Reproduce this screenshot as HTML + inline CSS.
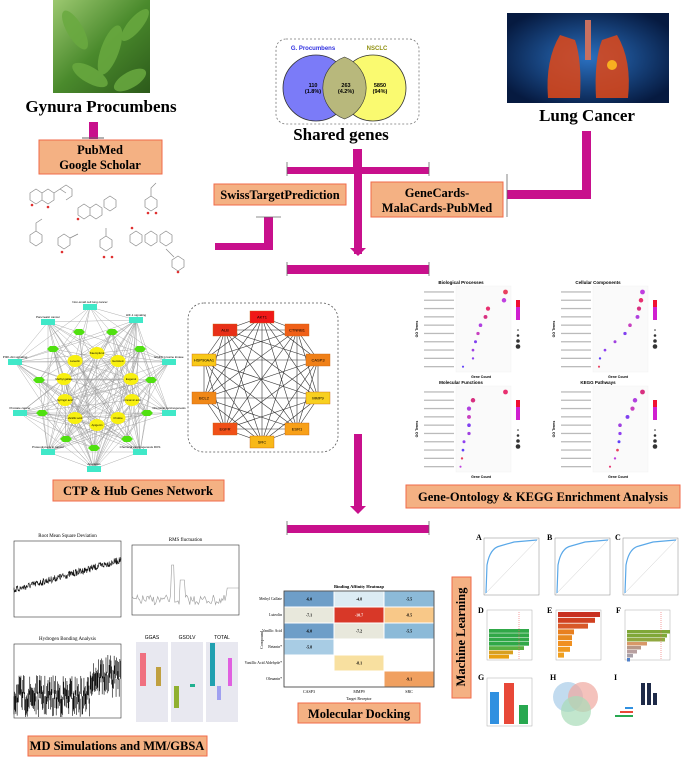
<!DOCTYPE html>
<html><head><meta charset="utf-8"><style>
html,body{margin:0;padding:0;background:#fff;}
svg{display:block;font-family:"Liberation Serif",serif;}
</style></head><body>
<svg id="s" width="685" height="757" viewBox="0 0 685 757" xmlns="http://www.w3.org/2000/svg">
<defs>
<linearGradient id="leaf" x1="0" y1="0" x2="1" y2="1"><stop offset="0" stop-color="#9cc870"/><stop offset="0.5" stop-color="#4a8a2c"/><stop offset="1" stop-color="#2c5a1a"/></linearGradient>
<radialGradient id="lung" cx="0.5" cy="0.5" r="0.6"><stop offset="0" stop-color="#2a70c0"/><stop offset="1" stop-color="#061a40"/></radialGradient>
</defs>

<rect x="53" y="0" width="97" height="93" fill="url(#leaf)"/>
<g fill="#6aaa40" opacity="0.85">
<ellipse cx="75" cy="30" rx="8" ry="22" transform="rotate(-30 75 30)"/>
<ellipse cx="110" cy="50" rx="9" ry="26" transform="rotate(20 110 50)"/>
<ellipse cx="135" cy="25" rx="7" ry="20" transform="rotate(40 135 25)"/>
<ellipse cx="90" cy="75" rx="8" ry="20" transform="rotate(-60 90 75)"/>
<ellipse cx="130" cy="80" rx="8" ry="18" transform="rotate(60 130 80)"/>
</g>
<text x="101" y="112" font-size="17" font-weight="bold" text-anchor="middle">Gynura Procumbens</text>

<rect x="89" y="122" width="9" height="17" fill="#c8108c"/>
<line x1="82" y1="138" x2="104" y2="138" stroke="#666" stroke-width="1"/>
<rect x="39" y="140" width="123" height="34" fill="#f4b183" stroke="#f06a4a" stroke-width="1"/>
<text x="100" y="154" font-size="12.5" font-weight="bold" text-anchor="middle">PubMed</text>
<text x="100" y="169" font-size="12.5" font-weight="bold" text-anchor="middle">Google Scholar</text>

<g stroke="#888" stroke-width="0.7" fill="none">
<path d="M30 193 l6-4 6 4 v7 l-6 4 -6-4z M42 193 l6-4 6 4 v7 l-6 4 -6-4z M54 193 l6-4 6 4 M60 189 l6-4 6 4 v7 l-6 4"/>
<path d="M78 208 l6-4 6 4 v7 l-6 4 -6-4z M90 208 l6-4 6 4 v7 l-6 4 -6-4z M104 200 l6-4 6 4 v7 l-6 4 -6-4z"/>
<path d="M145 200 l6-4 6 4 v7 l-6 4 -6-4z M151 196 v-8 l5-5"/>
<path d="M30 235 l6-4 6 4 v7 l-6 4 -6-4z M36 231 v-8 l6-4"/>
<path d="M58 238 l6-4 6 4 v7 l-6 4 -6-4z M70 238 l8-4"/>
<path d="M100 240 l6-4 6 4 v7 l-6 4 -6-4z M106 236 v-8"/>
<path d="M130 235 l6-4 6 4 v7 l-6 4 -6-4z M145 235 l6-4 6 4 v7 l-6 4 -6-4z M160 235 l6-4 6 4 v7 l-6 4 -6-4z M172 260 l6-4 6 4 v7 l-6 4 -6-4z M166 249 l8 8"/>
</g>
<g fill="#e03030"><circle cx="32" cy="205" r="1.3"/><circle cx="48" cy="207" r="1.3"/><circle cx="78" cy="219" r="1.3"/><circle cx="148" cy="213" r="1.3"/><circle cx="156" cy="213" r="1.3"/><circle cx="62" cy="252" r="1.3"/><circle cx="104" cy="257" r="1.3"/><circle cx="112" cy="257" r="1.3"/><circle cx="178" cy="272" r="1.3"/><circle cx="132" cy="228" r="1.3"/></g>

<rect x="276" y="39" width="143" height="85" rx="10" fill="none" stroke="#777" stroke-width="0.8" stroke-dasharray="2,2"/>
<text x="313" y="50" font-size="6" font-weight="bold" fill="#3030e0" text-anchor="middle" font-family="Liberation Sans">G. Procumbens</text>
<text x="377" y="50" font-size="6" font-weight="bold" fill="#909010" text-anchor="middle" font-family="Liberation Sans">NSCLC</text>
<circle cx="316" cy="88" r="33" fill="#7b7bf8" stroke="#333" stroke-width="0.8"/>
<circle cx="373" cy="88" r="33" fill="#fafa70" stroke="#333" stroke-width="0.8"/>
<path d="M344.5 57 A33 33 0 0 1 344.5 119 A33 33 0 0 1 344.5 57Z" fill="#b8b87c" stroke="#333" stroke-width="0.6"/>
<g font-family="Liberation Sans" font-size="5.5" font-weight="bold" text-anchor="middle">
<text x="313" y="87">110</text><text x="313" y="93">(1.8%)</text>
<text x="346" y="87">263</text><text x="346" y="93">(4.2%)</text>
<text x="380" y="87">5850</text><text x="380" y="93">(94%)</text>
</g>
<text x="341" y="140" font-size="17" font-weight="bold" text-anchor="middle">Shared genes</text>

<rect x="507" y="13" width="162" height="90" fill="url(#lung)"/>
<path d="M560 35 Q545 60 548 98 L580 98 Q582 60 575 40Z" fill="#e04818" opacity="0.85"/>
<path d="M617 35 Q632 60 628 98 L596 98 Q594 60 602 40Z" fill="#e04818" opacity="0.85"/>
<rect x="585" y="20" width="6" height="40" fill="#c87060"/>
<circle cx="612" cy="65" r="5" fill="#f8b020"/>
<text x="587" y="121" font-size="17" font-weight="bold" text-anchor="middle">Lung Cancer</text>

<g fill="#c8108c">
<rect x="353" y="149" width="9" height="18"/>
<rect x="287" y="167" width="142" height="7"/>
<rect x="354" y="174" width="8" height="80"/>
<polygon points="350,248 366,248 358,256"/>
<rect x="287" y="265" width="142" height="9"/>
<rect x="215" y="243" width="58" height="7"/>
<rect x="264" y="217" width="9" height="33"/>
<rect x="582" y="131" width="9" height="68"/>
<rect x="507" y="190" width="84" height="9"/>
</g>
<g stroke="#666" stroke-width="0.8"><line x1="287" y1="162" x2="287" y2="176"/><line x1="429" y1="162" x2="429" y2="176"/><line x1="287" y1="262" x2="287" y2="276"/><line x1="429" y1="262" x2="429" y2="276"/><line x1="256" y1="217" x2="281" y2="217"/><line x1="507" y1="174" x2="507" y2="217"/></g>

<rect x="214" y="184" width="132" height="21" fill="#f4b183" stroke="#f06a4a"/>
<text x="280" y="199" font-size="12.5" font-weight="bold" text-anchor="middle">SwissTargetPrediction</text>
<rect x="371" y="182" width="132" height="35" fill="#f4b183" stroke="#f06a4a"/>
<text x="437" y="197" font-size="12.5" font-weight="bold" text-anchor="middle">GeneCards-</text>
<text x="437" y="212" font-size="12.5" font-weight="bold" text-anchor="middle">MalaCards-PubMed</text>

<g id="net"></g>

<rect x="188" y="303" width="150" height="149" rx="16" fill="none" stroke="#555" stroke-width="0.8" stroke-dasharray="2,2"/>
<g id="hub"></g>

<rect x="53" y="480" width="171" height="21" fill="#f4b183" stroke="#f06a4a"/>
<text x="138" y="495" font-size="12.5" font-weight="bold" text-anchor="middle">CTP &amp; Hub Genes Network</text>

<g id="go" font-family="Liberation Sans"></g>
<rect x="406" y="485" width="274" height="23" fill="#f4b183" stroke="#f06a4a"/>
<text x="543" y="501" font-size="12.5" font-weight="bold" text-anchor="middle">Gene-Ontology &amp; KEGG Enrichment Analysis</text>

<g fill="#c8108c">
<rect x="354" y="434" width="8" height="76"/>
<polygon points="350,506 366,506 358,514"/>
<rect x="287" y="525" width="142" height="8"/>
</g>
<g stroke="#666" stroke-width="0.8"><line x1="287" y1="521" x2="287" y2="535"/><line x1="429" y1="521" x2="429" y2="535"/></g>

<g id="md" font-family="Liberation Serif"></g>
<rect x="28" y="736" width="179" height="20" fill="#f4b183" stroke="#f06a4a"/>
<text x="117" y="750" font-size="12.5" font-weight="bold" text-anchor="middle">MD Simulations and MM/GBSA</text>

<g id="hm"></g>
<rect x="298" y="703" width="122" height="20" fill="#f4b183" stroke="#f06a4a"/>
<text x="359" y="718" font-size="12.5" font-weight="bold" text-anchor="middle">Molecular Docking</text>

<rect x="452" y="577" width="19" height="121" fill="#f4b183" stroke="#f06a4a"/>
<text x="466" y="637" font-size="12.5" font-weight="bold" text-anchor="middle" transform="rotate(-90 466 637)" dy="-1">Machine Learning</text>
<g id="ml"></g>
</svg>
<script>
var NS="http://www.w3.org/2000/svg";
function el(p,t,a,txt){var e=document.createElementNS(NS,t);for(var k in a)e.setAttribute(k,a[k]);if(txt!=null)e.textContent=txt;p.appendChild(e);return e;}
var seed=7;function rnd(){seed=(seed*16807)%2147483647;return seed/2147483647;}
var net=document.getElementById('net');
var cyan=[[90,307,"Non-small cell lung cancer"],[136,320,"HIF-1 signaling"],[48,322,"Pancreatic cancer"],[15,362,"PI3K-Akt signaling"],[169,362,"EGFR tyrosine kinase"],[20,413,"Prostate cancer"],[169,413,"Chemical carcinogenesis"],[48,452,"Proteoglycans in cancer"],[140,452,"Chemical carcinogenesis ROS"],[94,469,"Apoptosis"]];
var green=[[79,332],[112,332],[53,349],[140,349],[39,380],[151,380],[42,413],[147,413],[66,439],[127,439],[94,448]];
var yel=[[97,353,"Kaempferol"],[75,361,"Luteolin"],[118,361,"Genistein"],[64,379,"Methyl gallate"],[131,379,"Eugenol"],[65,400,"Syringic acid"],[132,400,"Cinnamic acid"],[75,418,"Vanillic acid"],[118,418,"Choline"],[97,425,"Apigenin"]];
var all=cyan.concat(green).concat(yel);
var g=el(net,'g',{stroke:'#999','stroke-width':'0.4'});
for(var i=0;i<all.length;i++)for(var j=i+1;j<all.length;j++){if(rnd()<0.45)el(g,'line',{x1:all[i][0],y1:all[i][1],x2:all[j][0],y2:all[j][1]});}
cyan.forEach(function(c){el(net,'rect',{x:c[0]-7,y:c[1]-3,width:14,height:6,fill:'#40e8c8'});el(net,'text',{x:c[0],y:c[1]-4,'font-size':'3','text-anchor':'middle','font-family':'Liberation Sans'},c[2]);});
green.forEach(function(c){el(net,'polygon',{points:(c[0]-6)+','+c[1]+' '+(c[0]-3)+','+(c[1]-3)+' '+(c[0]+3)+','+(c[1]-3)+' '+(c[0]+6)+','+c[1]+' '+(c[0]+3)+','+(c[1]+3)+' '+(c[0]-3)+','+(c[1]+3),fill:'#50e010'});});
yel.forEach(function(c){el(net,'ellipse',{cx:c[0],cy:c[1],rx:7.5,ry:6,fill:'#f8f010'});el(net,'text',{x:c[0],y:c[1]+1,'font-size':'2.8','text-anchor':'middle','font-family':'Liberation Sans'},c[2]);});
var hub=document.getElementById('hub');
var hn=[["AKT1",262,317,"#f01818"],["ALB",225,330,"#e83018"],["CTNNB1",297,330,"#f06018"],["HSP90AA1",204,360,"#f8c818"],["CASP3",318,360,"#f08018"],["BCL2",204,398,"#f08818"],["MMP9",318,398,"#f8d020"],["EGFR",225,429,"#f05018"],["ESR1",297,429,"#f8a018"],["SRC",262,442,"#f8b818"]];
var hg=el(hub,'g',{stroke:'#333','stroke-width':'0.6'});
for(var i=0;i<hn.length;i++)for(var j=i+1;j<hn.length;j++)el(hg,'line',{x1:hn[i][1],y1:hn[i][2],x2:hn[j][1],y2:hn[j][2]});
hn.forEach(function(n){el(hub,'rect',{x:n[1]-12,y:n[2]-6,width:24,height:12,fill:n[3],stroke:'#c86010','stroke-width':'0.4'});el(hub,'text',{x:n[1],y:n[2]+1.5,'font-size':'4','text-anchor':'middle','font-family':'Liberation Sans'},n[0]);});
var go=document.getElementById('go');
var panels=[[416,284,"Biological Processes",[0.95,0.92,0.6,0.55,0.45,0.4,0.35,0.3,0.3,0.1]],[553,284,"Cellular Components",[0.95,0.92,0.88,0.85,0.7,0.6,0.4,0.2,0.1,0.08]],[416,384,"Molecular Functions",[0.95,0.3,0.22,0.22,0.22,0.22,0.12,0.1,0.08,0.05]],[553,384,"KEGG Pathways",[0.95,0.8,0.75,0.65,0.5,0.5,0.48,0.45,0.4,0.3]]];
var cols=['#e84060','#c040e0','#e83070','#d83080','#b040e0','#c840c0','#8040f0','#a040e0','#9040f0','#6040f8'];
panels.forEach(function(p,k){var x=p[0],y=p[1];el(go,'text',{x:x+45,y:y,'font-size':'4.5','font-weight':'bold','text-anchor':'middle'},p[2]);
el(go,'rect',{x:x+40,y:y+2,width:55,height:86,fill:'#fafafa',stroke:'#eee','stroke-width':'0.4'});
for(var i=0;i<10;i++){var yy=y+8+i*8.3;el(go,'rect',{x:x+8,y:yy-0.7,width:30,height:1.3,fill:'#bbb'});el(go,'circle',{cx:x+42+p[3][i]*50,cy:yy,r:2.4-i*0.15,fill:cols[(i+k)%10]});}
el(go,'text',{x:x+65,y:y+94,'font-size':'3.5','font-weight':'bold','text-anchor':'middle'},'Gene Count');
el(go,'text',{x:x+2,y:y+45,'font-size':'3.5','font-weight':'bold','text-anchor':'middle',transform:'rotate(-90 '+(x+2)+' '+(y+45)+')'},'GO Terms');
el(go,'rect',{x:x+100,y:y+16,width:4,height:20,fill:'#d020d0'});el(go,'rect',{x:x+100,y:y+16,width:4,height:7,fill:'#f01030'});
for(var i=0;i<4;i++)el(go,'circle',{cx:x+102,cy:y+46+i*5.5,r:0.8+i*0.5,fill:'#333'});});
var md=document.getElementById('md');
function frame(x,y,w,h,t){el(md,'rect',{x:x,y:y,width:w,height:h,fill:'#fff',stroke:'#333','stroke-width':'0.6'});if(t)el(md,'text',{x:x+w/2,y:y-4,'font-size':'5','text-anchor':'middle'},t);}
frame(14,541,107,76,"Root Mean Square Deviation");
var d="M14 590";for(var i=0;i<=300;i++){var xx=14+i*107/300;var base=590-i*0.1;d+=" L"+xx.toFixed(1)+" "+(base+(rnd()-0.5)*7).toFixed(1);}
el(md,'path',{d:d,stroke:'#111','stroke-width':'0.6',fill:'none'});
frame(132,545,107,70,"RMS fluctuation");
var d2="M132 600";for(var i=0;i<=100;i++){var xx=132+i*1.07;var v=600+(rnd()-0.5)*10;if(i>36&&i<40)v=565;if(i>44&&i<50)v=580;if(i>88)v=588;d2+=" L"+xx.toFixed(1)+" "+v.toFixed(1);}
el(md,'path',{d:d2,stroke:'#999','stroke-width':'0.6',fill:'none'});
frame(14,644,107,74,"Hydrogen Bonding Analysis");
var g3=el(md,'g',{stroke:'#000','stroke-width':'0.6'});
for(var i=0;i<170;i++){var xx=14+i*0.63;var hb=i>120?655:675;var v=hb+rnd()*25;el(g3,'line',{x1:xx,y1:Math.min(717,v+18),x2:xx,y2:v});}
var bx=[[136,"GGAS"],[171,"GSOLV"],[206,"TOTAL"]];bx.forEach(function(b){el(md,'rect',{x:b[0],y:642,width:32,height:80,fill:'#e8e8f0'});el(md,'text',{x:b[0]+16,y:639,'font-size':'5','text-anchor':'middle','font-family':'Liberation Sans'},b[1]);});
el(md,'rect',{x:140,y:653,width:6,height:33,fill:'#f07080'});el(md,'rect',{x:156,y:667,width:5,height:19,fill:'#c0a040'});
el(md,'rect',{x:174,y:686,width:5,height:22,fill:'#90b030'});el(md,'rect',{x:190,y:684,width:5,height:3,fill:'#20b090'});
el(md,'rect',{x:210,y:643,width:5,height:43,fill:'#20a0b0'});el(md,'rect',{x:217,y:686,width:4,height:14,fill:'#a0a0f0'});el(md,'rect',{x:228,y:658,width:4,height:28,fill:'#e060e0'});
var hm=document.getElementById('hm');
el(hm,'text',{x:359,y:588,'font-size':'4.5','font-weight':'bold','text-anchor':'middle'},'Binding Affinity Heatmap');
var rows=["Methyl Gallate","Luteolin","Vanillic Acid","Betanin*","Vanillic Acid Aldehyde*","Oleuanin*"];
var vals=[[["-6.0","#6e9ec8"],["-4.8","#dcecf4"],["-5.5","#8cbad8"]],[["-7.1","#e8e8dc"],["-10.7","#d83828"],["-8.5","#f8c888"]],[["-6.0","#6e9ec8"],["-7.2","#e8e8dc"],["-5.5","#8cbad8"]],[["-5.8","#a8cce4"],["","#fff"],["","#fff"]],[["","#fff"],["-8.1","#f8e0a0"],["","#fff"]],[["","#fff"],["","#fff"],["-9.1","#f0a060"]]];
var cw=50,rh=16;
el(hm,'rect',{x:284,y:591,width:150,height:96,fill:'#fff',stroke:'#333','stroke-width':'0.8'});
for(var r=0;r<6;r++){el(hm,'text',{x:282,y:591+r*rh+9,'font-size':'3.8','text-anchor':'end'},rows[r]);for(var c=0;c<3;c++){el(hm,'rect',{x:284+c*cw+0.5,y:591+r*rh+0.5,width:cw-1,height:rh-1,fill:vals[r][c][1]});el(hm,'text',{x:284+c*cw+cw/2,y:591+r*rh+9.5,'font-size':'4','font-weight':'bold','text-anchor':'middle',fill:vals[r][c][0]=="-10.7"?'#fff':'#000'},vals[r][c][0]);}}
["CASP3","MMP9","SRC"].forEach(function(t,c){el(hm,'text',{x:284+c*cw+cw/2,y:693,'font-size':'4','text-anchor':'middle'},t);});
el(hm,'text',{x:359,y:700,'font-size':'4','text-anchor':'middle'},'Target Receptor');
el(hm,'text',{x:263,y:640,'font-size':'4','text-anchor':'middle',transform:'rotate(-90 263 640)'},'Compound');
var ml=document.getElementById('ml');
[[484,"A"],[555,"B"],[623,"C"]].forEach(function(p){var x=p[0];el(ml,'text',{x:x-8,y:540,'font-size':'8','font-weight':'bold'},p[1]);el(ml,'rect',{x:x,y:538,width:55,height:57,fill:'#fff',stroke:'#888','stroke-width':'0.5'});
el(ml,'line',{x1:x,y1:595,x2:x+55,y2:538,stroke:'#ccc','stroke-width':'0.5'});
el(ml,'path',{d:'M'+(x+2)+' 593 L'+(x+3)+' 565 Q'+(x+6)+' 548 '+(x+16)+' 546 L'+(x+30)+' 542 L'+(x+53)+' 540',stroke:'#5aa8e8','stroke-width':'1.2',fill:'none'});});
[[487,"D"],[556,"E"],[625,"F"]].forEach(function(p){el(ml,'text',{x:p[0]-9,y:613,'font-size':'8','font-weight':'bold'},p[1]);el(ml,'rect',{x:p[0],y:610,width:45,height:50,fill:'#fff',stroke:'#aaa','stroke-width':'0.5'});});
var dg=[["#30a848",40],["#30a848",40],["#30a848",40],["#30a848",40],["#58b040",35],["#d8a020",24],["#e8a010",20]];
dg.forEach(function(b,i){el(ml,'rect',{x:489,y:629+i*4.3,width:b[1],height:3.8,fill:b[0]});});
el(ml,'line',{x1:519,y1:612,x2:519,y2:660,stroke:'#f06060','stroke-width':'0.6','stroke-dasharray':'1,1'});
var eg=[["#c83020",42],["#d04020",37],["#d85828",30],["#e88020",16],["#e88a20",14],["#f09020",14],["#f09a20",12],["#f0a020",6]];
eg.forEach(function(b,i){el(ml,'rect',{x:558,y:612+i*5.8,width:b[1],height:5,fill:b[0]});});
var fg=[["#80a838",43],["#80a838",40],["#90a840",38],["#d89868",20],["#b89888",14],["#b8a0a0",10],["#a8a0a8",6],["#5080c8",3]];
fg.forEach(function(b,i){el(ml,'rect',{x:627,y:630+i*4,width:b[1],height:3.5,fill:b[0]});});
el(ml,'line',{x1:661,y1:612,x2:661,y2:660,stroke:'#f06060','stroke-width':'0.6','stroke-dasharray':'1,1'});
el(ml,'text',{x:478,y:680,'font-size':'8','font-weight':'bold'},'G');
el(ml,'rect',{x:487,y:678,width:45,height:48,fill:'#fff',stroke:'#aaa','stroke-width':'0.5'});
el(ml,'rect',{x:490,y:692,width:9,height:32,fill:'#3090e0'});el(ml,'rect',{x:504,y:683,width:10,height:41,fill:'#e84838'});el(ml,'rect',{x:519,y:705,width:9,height:19,fill:'#28a850'});
el(ml,'text',{x:550,y:680,'font-size':'8','font-weight':'bold'},'H');
el(ml,'circle',{cx:568,cy:697,r:15,fill:'#a8cce8',opacity:'0.7'});el(ml,'circle',{cx:583,cy:697,r:15,fill:'#f0a8a0',opacity:'0.7'});el(ml,'circle',{cx:576,cy:711,r:15,fill:'#a8dcb8',opacity:'0.7'});
el(ml,'text',{x:614,y:680,'font-size':'8','font-weight':'bold'},'I');
[0,1,2].forEach(function(i){el(ml,'rect',{x:641+i*6,y:[683,683,693][i],width:4,height:[22,22,12][i],fill:'#1e2a48'});});
el(ml,'rect',{x:625,y:707,width:8,height:2,fill:'#3090e0'});el(ml,'rect',{x:620,y:711,width:13,height:2,fill:'#e84838'});el(ml,'rect',{x:615,y:715,width:18,height:2,fill:'#28a850'});
</script>
</body></html>
